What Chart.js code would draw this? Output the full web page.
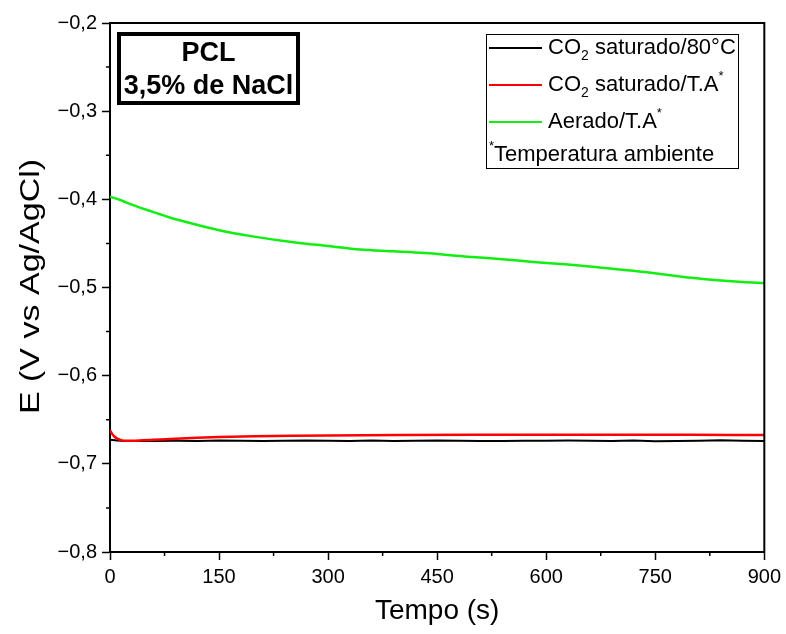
<!DOCTYPE html>
<html>
<head>
<meta charset="utf-8">
<script src="https://cdn.jsdelivr.net/npm/chart.js@4.4.1/dist/chart.umd.min.js"></script>
<style>
  html, body { margin: 0; padding: 0; background: #ffffff; }
  #wrap { width: 786px; height: 634px; position: relative; }
</style>
</head>
<body>
<div id="wrap"><canvas id="c" width="786" height="634"></canvas></div>
<script>
// ---- Data ----
const xTicks = [0, 150, 300, 450, 600, 750, 900];
const yTicks = [-0.8, -0.7, -0.6, -0.5, -0.4, -0.3, -0.2];

const aeradoTempo = [0, 15, 30, 58, 80, 106, 150, 196, 255, 300, 344, 390, 433, 492, 540, 582, 630, 671, 720, 760, 800, 831, 870, 900];
const aeradoE     = [-0.397, -0.401, -0.406, -0.414, -0.420, -0.426, -0.435, -0.442, -0.449, -0.453, -0.457, -0.459, -0.461, -0.465, -0.468, -0.471, -0.474, -0.477, -0.481, -0.485, -0.489, -0.4915, -0.4938, -0.4950];

const co2TATempo = [0, 3, 6, 10, 15, 20, 30, 45, 60, 90, 120, 150, 200, 250, 300, 400, 500, 600, 700, 800, 900];
const co2TAE     = [-0.662, -0.666, -0.669, -0.6715, -0.673, -0.6738, -0.6738, -0.6733, -0.6727, -0.6715, -0.6705, -0.6697, -0.6688, -0.6682, -0.6678, -0.6673, -0.6670, -0.6669, -0.6670, -0.6671, -0.6673];

const co280Tempo = [0, 10, 20, 40, 60, 90, 120, 150, 180, 210, 240, 270, 300, 330, 360, 390, 420, 450, 480, 510, 540, 570, 600, 630, 660, 690, 720, 750, 780, 810, 840, 870, 900];
const co280E     = [-0.6728, -0.6735, -0.6740, -0.6742, -0.6740, -0.6738, -0.6740, -0.6736, -0.6738, -0.6741, -0.6738, -0.6735, -0.6739, -0.6741, -0.6736, -0.6740, -0.6738, -0.6735, -0.6738, -0.6742, -0.6741, -0.6737, -0.6739, -0.6736, -0.6738, -0.6741, -0.6736, -0.6743, -0.6742, -0.6738, -0.6733, -0.6737, -0.6742];

const seriesLabels = ['CO2 saturado/80°C', 'CO2 saturado/T.A*', 'Aerado/T.A*'];
const seriesColors = ['#000000', '#ff0000', '#11ee11'];
const yTitle = 'E (V vs Ag/AgCl)';

function pts(xs, ys) { return xs.map((x, i) => ({ x: x, y: ys[i] })); }

const FONT = "'Liberation Sans', Arial, sans-serif";

const framePlugin = {
  id: 'frame',
  afterDatasetsDraw(chart) {
    const ctx = chart.ctx;
    const a = chart.chartArea;
    const xs = chart.scales.x, ys = chart.scales.y;
    ctx.save();
    ctx.strokeStyle = '#000';
    ctx.lineWidth = 2;
    // top & right border
    ctx.beginPath();
    ctx.moveTo(a.left - 1, a.top);
    ctx.lineTo(a.right, a.top);
    ctx.lineTo(a.right, a.bottom + 1);
    ctx.stroke();
    // minor ticks
    ctx.lineWidth = 1.5;
    ctx.beginPath();
    for (let i = 0; i < xTicks.length - 1; i++) {
      const px = xs.getPixelForValue((xTicks[i] + xTicks[i + 1]) / 2);
      ctx.moveTo(px, a.bottom);
      ctx.lineTo(px, a.bottom + 4);
    }
    for (let i = 0; i < yTicks.length - 1; i++) {
      const py = ys.getPixelForValue((yTicks[i] + yTicks[i + 1]) / 2);
      ctx.moveTo(a.left, py);
      ctx.lineTo(a.left - 4, py);
    }
    ctx.stroke();

    // y axis title (slightly stretched along its length, as in the reference)
    ctx.save();
    ctx.translate(32, (a.top + a.bottom) / 2 - 1);
    ctx.rotate(-Math.PI / 2);
    ctx.scale(1.26, 1);
    ctx.fillStyle = '#000';
    ctx.textAlign = 'center';
    ctx.textBaseline = 'middle';
    ctx.font = '27px ' + FONT;
    ctx.fillText(yTitle, 0, 0);
    ctx.restore();

    // annotation box
    ctx.lineWidth = 4;
    ctx.strokeStyle = '#000';
    ctx.strokeRect(119, 34, 179, 69);
    ctx.fillStyle = '#000';
    ctx.textAlign = 'center';
    ctx.textBaseline = 'middle';
    ctx.font = 'bold 27px ' + FONT;
    ctx.fillText('PCL', 208.5, 54);
    ctx.fillText('3,5% de NaCl', 208.5, 87);

    // legend box
    ctx.fillStyle = '#fff';
    ctx.fillRect(486, 34, 252, 134);
    ctx.lineWidth = 1;
    ctx.strokeStyle = '#000';
    ctx.strokeRect(486.5, 34.5, 252, 134);
    const rows = [48, 85, 122];
    ctx.textAlign = 'left';
    ctx.textBaseline = 'middle';
    const fs = 22;
    for (let i = 0; i < 3; i++) {
      const y = rows[i];
      ctx.strokeStyle = seriesColors[i];
      ctx.lineWidth = 2;
      ctx.beginPath();
      ctx.moveTo(489, y);
      ctx.lineTo(542, y);
      ctx.stroke();
      ctx.fillStyle = '#000';
      let x = 548;
      const drawT = (t, size, dy) => {
        ctx.font = size + 'px ' + FONT;
        ctx.fillText(t, x, y + dy);
        x += ctx.measureText(t).width;
      };
      if (i === 0) {
        drawT('CO', fs, 0); drawT('2', 14, 8); drawT(' saturado/80°C', fs, 0);
      } else if (i === 1) {
        drawT('CO', fs, 0); drawT('2', 14, 8); drawT(' saturado/T.A', fs, 0); drawT('*', 13, -9);
      } else {
        drawT('Aerado/T.A', fs, 0); drawT('*', 13, -9);
      }
    }
    {
      let x = 489; const y = 155;
      ctx.font = '13px ' + FONT;
      ctx.fillText('*', x, y - 9);
      x += ctx.measureText('*').width;
      ctx.font = fs + 'px ' + FONT;
      ctx.fillText('Temperatura ambiente', x, y);
    }
    ctx.restore();
  }
};

new Chart(document.getElementById('c'), {
  type: 'line',
  data: {
    datasets: [
      { label: seriesLabels[2], data: pts(aeradoTempo, aeradoE), borderColor: seriesColors[2], borderWidth: 2.5, pointRadius: 0, cubicInterpolationMode: 'monotone', fill: false },
      { label: seriesLabels[1], data: pts(co2TATempo, co2TAE), borderColor: seriesColors[1], borderWidth: 2.5, pointRadius: 0, cubicInterpolationMode: 'monotone', fill: false },
      { label: seriesLabels[0], data: pts(co280Tempo, co280E), borderColor: seriesColors[0], borderWidth: 2, pointRadius: 0, tension: 0, fill: false }
    ]
  },
  options: {
    responsive: false,
    animation: false,
    layout: { padding: { top: 23, right: 20, left: 0, bottom: 0 } },
    plugins: { legend: { display: false }, tooltip: { enabled: false } },
    scales: {
      x: {
        type: 'linear',
        min: 0, max: 900,
        afterFit(scale) { scale.height = 82; },
        afterBuildTicks(scale) { scale.ticks = xTicks.map(v => ({ value: v })); },
        ticks: { color: '#000', font: { family: FONT, size: 20 }, padding: 5, maxRotation: 0,
                 callback: v => String(v) },
        grid: { drawOnChartArea: false, drawTicks: true, tickLength: 8, tickWidth: 1.5, tickColor: '#000' },
        border: { display: true, color: '#000', width: 2 },
        title: { display: true, text: 'Tempo (s)', color: '#000', font: { family: FONT, size: 28 }, padding: { top: 0, bottom: 6 } }
      },
      y: {
        type: 'linear',
        min: -0.8, max: -0.2,
        afterFit(scale) { scale.width = 110; },
        afterBuildTicks(scale) { scale.ticks = yTicks.map(v => ({ value: v })); },
        ticks: { color: '#000', font: { family: FONT, size: 20 }, padding: 5,
                 callback: v => (v < 0 ? '\u2212' : '') + Math.abs(v).toFixed(1).replace('.', ',') },
        grid: { drawOnChartArea: false, drawTicks: true, tickLength: 8, tickWidth: 1.5, tickColor: '#000' },
        border: { display: true, color: '#000', width: 2 },
        title: { display: false }
      }
    }
  },
  plugins: [framePlugin]
});
</script>
</body>
</html>
